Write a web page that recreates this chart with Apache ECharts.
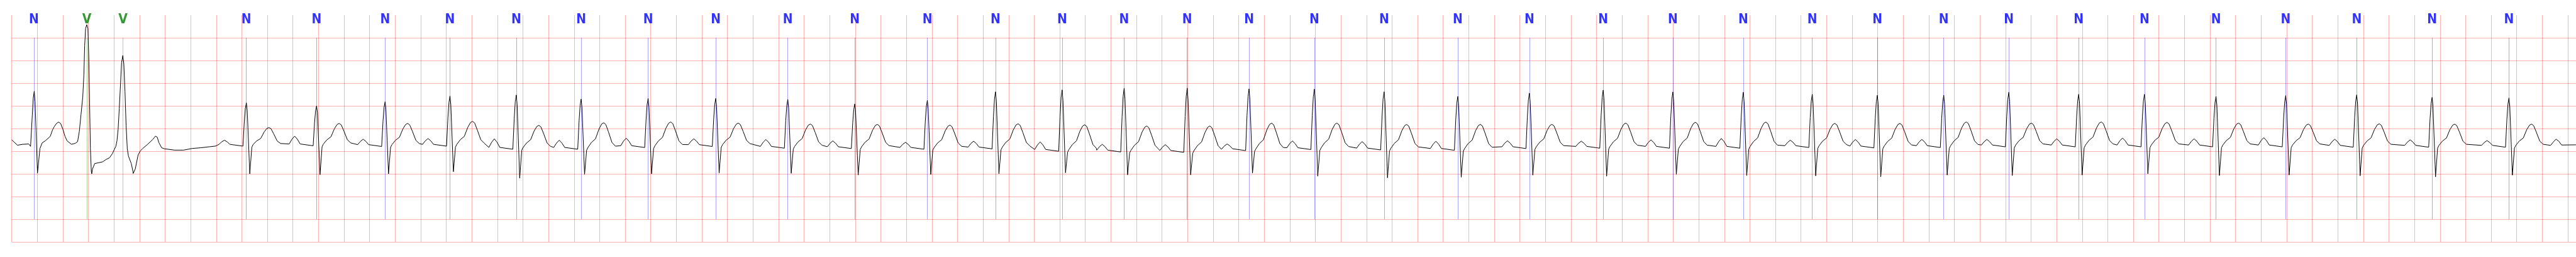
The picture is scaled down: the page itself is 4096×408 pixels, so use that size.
<!DOCTYPE html>
<html><head><meta charset="utf-8">
<script src="https://cdn.jsdelivr.net/npm/echarts@6/dist/echarts.min.js"></script>
<style>html,body{margin:0;padding:0;background:#fff;overflow:hidden}#c{width:4096px;height:408px}</style>
</head><body><div id="c"></div>
<script>
// Beat annotations (time in s, label)
const beatTimes = [0.1734, 0.5876, 0.8700, 1.8358, 2.3853, 2.9212, 3.4290, 3.9477, 4.4553, 4.9794,
  5.5083, 6.0723, 6.5962, 7.1642, 7.6975, 8.2186, 8.7042, 9.1975, 9.6814, 10.1921,
  10.7379, 11.3148, 11.8749, 12.4523, 12.9976, 13.5485, 14.0882, 14.5973, 15.1171, 15.6262,
  16.1728, 16.6873, 17.2473, 17.7926, 18.3481, 18.9381, 19.5394];
const beatTypes = ['N','V','V','N','N','N','N','N','N','N','N','N','N','N','N','N','N','N','N','N',
  'N','N','N','N','N','N','N','N','N','N','N','N','N','N','N','N','N'];

// Opening segment of the trace (N beat, two V beats, pause), read point by point (s, mV)
const leadTimes = [0, 0.0174, 0.0447, 0.0849, 0.1332, 0.1474, 0.1610, 0.1680, 0.1760, 0.1827,
  0.2015, 0.2208, 0.2377, 0.2645, 0.3012, 0.3181, 0.3315, 0.3502, 0.3663, 0.3824,
  0.4011, 0.4172, 0.4333, 0.4681, 0.4976, 0.5155, 0.5289, 0.5423, 0.5557, 0.5646,
  0.5707, 0.5780, 0.5868, 0.5959, 0.6029, 0.6093, 0.6155, 0.6227, 0.6262, 0.6316,
  0.6495, 0.6763, 0.7120, 0.7387, 0.7655, 0.7878, 0.8012, 0.8146, 0.8237, 0.8325,
  0.8414, 0.8505, 0.8593, 0.8692, 0.8773, 0.8861, 0.8950, 0.9041, 0.9129, 0.9218,
  0.9352, 0.9486, 0.9504, 0.9665, 0.9887, 1.0067, 1.0247, 1.0603, 1.1032, 1.1246,
  1.1380, 1.1514, 1.1728, 1.1943, 1.2747, 1.3435, 1.4113, 1.4810, 1.5480, 1.5962];
const leadValues = [0.249, 0.204, 0.132, 0.151, 0.159, 0.106, 0.801, 1.163, 1.322, 1.088,
  -0.483, 0.060, 0.181, 0.234, 0.325, 0.461, 0.536, 0.612, 0.642, 0.612,
  0.476, 0.325, 0.227, 0.151, 0.174, 0.211, 0.438, 0.816, 1.193, 1.692,
  2.326, 2.704, 2.789, 2.704, 2.069, 1.065, 0.060, -0.446, -0.498, -0.393,
  -0.272, -0.257, -0.234, -0.181, -0.144, -0.053, 0.030, 0.106, 0.234, 0.483,
  0.937, 1.443, 1.949, 2.110, 1.918, 1.314, 0.559, 0.060, -0.106, -0.128,
  -0.272, -0.446, -0.491, -0.393, -0.083, 0.008, 0.060, 0.144, 0.257, 0.332,
  0.310, 0.189, 0.076, 0.053, 0.023, 0.023, 0.060, 0.076, 0.098, 0.113];

// Per-beat readings for beats 4..37 (mV)
const rPeak = [1.065, 1.000, 1.088, 1.216, 1.239, 1.148, 1.163, 1.163, 1.140, 1.042, 1.120, 1.309,
  1.352, 1.390, 1.390, 1.375, 1.367, 1.309, 1.208, 1.279, 1.347, 1.307, 1.299, 1.254, 1.233,
  1.233, 1.299, 1.254, 1.254, 1.208, 1.226, 1.242, 1.186, 1.174];
const sTrough = [-0.498, -0.518, -0.498, -0.453, -0.597, -0.514, -0.498, -0.483, -0.489, -0.526,
  -0.514, -0.498, -0.476, -0.521, -0.521, -0.483, -0.551, -0.587, -0.574, -0.529, -0.551, -0.511,
  -0.534, -0.544, -0.564, -0.526, -0.536, -0.526, -0.496, -0.536, -0.526, -0.544, -0.566, -0.529];
const tPeak = [0.521, 0.612, 0.612, 0.657, 0.569, 0.627, 0.644, 0.619, 0.599, 0.591, 0.574, 0.604,
  0.582, 0.555, 0.555, 0.619, 0.619, 0.589, 0.591, 0.591, 0.619, 0.637, 0.642, 0.612, 0.612,
  0.644, 0.619, 0.644, 0.634, 0.619, 0.599, 0.604, 0.597, 0.597];
const pPeak = [0.242, 0.332, 0.264, 0.279, 0.272, 0.242, 0.287, 0.272, 0.257, 0.227, 0.196, 0.221,
  0.204, 0.151, 0.143, 0.159, 0.227, 0.211, 0.219, 0.229, 0.221, 0.249, 0.279, 0.242, 0.257,
  0.259, 0.259, 0.272, 0.289, 0.272, 0.297, 0.264, 0.249, 0.234];
const baseLevel = [0.151, 0.159, 0.144, 0.151, 0.083, 0.083, 0.121, 0.144, 0.106, 0.098, 0.083, 0.091,
  0.038, 0.023, 0.015, 0.053, 0.076, 0.068, 0.060, 0.098, 0.106, 0.106, 0.106, 0.121, 0.113,
  0.121, 0.136, 0.136, 0.136, 0.136, 0.136, 0.128, 0.128, 0.128];

// Wave morphology: time offsets from R (s) and fraction of wave height
const pOffsets = [-0.2144, -0.1929, -0.1715, -0.1501, -0.1286];
const pWeights = [0, 0.6, 1, 0.6, 0];
const tOffsets = [0.0536, 0.0804, 0.1125, 0.1393, 0.1608, 0.1769, 0.1929, 0.2144, 0.2412, 0.2680];
const tWeights = [0, 0.2, 0.35, 0.74, 0.95, 1, 0.93, 0.62, 0.2, 0.05];

// Closing segment after the last beat
const tailTimes = [19.8653, 19.8867, 19.9081, 19.9296, 19.9510, 20.0635];
const tailValues = [0.128, 0.204, 0.264, 0.219, 0.136, 0.140];

const X_MAX = 20.064, Y_MIN = -2, Y_MAX = 3;
const MARK_TOP = 2.5, MARK_BOTTOM = -1.5, LABEL_Y = 2.893;

const trace = [];
leadTimes.forEach((t, i) => trace.push([t, leadValues[i]]));
for (let i = 3; i < beatTimes.length; i++) {
  const j = i - 3, R = beatTimes[i], b = baseLevel[j], r = rPeak[j];
  pOffsets.forEach((o, k) => trace.push([R + o, b + pWeights[k] * (pPeak[j] - b)]));
  trace.push([R - 0.0268, b - 0.04]);
  trace.push([R - 0.0161, b + 0.55 * (r - b)]);
  trace.push([R - 0.0080, b + 0.87 * (r - b)]);
  trace.push([R, r]);
  trace.push([R + 0.0067, b + 0.82 * (r - b)]);
  trace.push([R + 0.0268, sTrough[j]]);
  trace.push([R + 0.0429, b - 0.06]);
  tOffsets.forEach((o, k) => trace.push([R + o, b + tWeights[k] * (tPeak[j] - b)]));
}
tailTimes.forEach((t, i) => trace.push([t, tailValues[i]]));

const styles = { N: { color: '#0000ff' }, V: { color: '#008000' } };
function labelSeries(type) {
  const times = beatTimes.filter((t, i) => beatTypes[i] === type);
  return {
    type: 'scatter', name: type, silent: true, z: 4,
    symbolSize: 1, itemStyle: { color: 'rgba(0,0,0,0)' },
    data: times.map(t => [t, LABEL_Y]),
    label: { show: true, position: 'inside', formatter: type, color: styles[type].color,
      fontWeight: 'bold', fontSize: 21,
      fontFamily: '"Liberation Sans Narrow", "DejaVu Sans Condensed", "Liberation Sans", sans-serif' },
    markLine: { silent: true, symbol: ['none', 'none'], animation: false,
      label: { show: false }, emphasis: { disabled: true },
      lineStyle: { color: styles[type].color, width: 0.7, opacity: 0.5, type: 'solid' },
      data: times.map(t => [{ coord: [t, MARK_TOP] }, { coord: [t, MARK_BOTTOM] }]) }
  };
}

const chart = echarts.init(document.getElementById('c'), null, { renderer: 'canvas' });
const gridLine = { show: true, showMaxLine: false, lineStyle: { color: 'rgba(255,0,0,0.3)', width: 1 } };
chart.setOption({
  animation: false,
  backgroundColor: '#ffffff',
  grid: { left: 18.66, right: 0, top: 23.94, bottom: 23.94, containLabel: false },
  xAxis: { type: 'value', min: 0, max: X_MAX, interval: 0.2,
    axisLine: { show: false }, axisTick: { show: false }, axisLabel: { show: false },
    splitLine: gridLine },
  yAxis: { type: 'value', min: Y_MIN, max: Y_MAX, interval: 0.5,
    axisLine: { show: false }, axisTick: { show: false }, axisLabel: { show: false },
    splitLine: gridLine },
  series: [
    labelSeries('N'),
    labelSeries('V'),
    { type: 'line', data: trace, symbol: 'none', showSymbol: false, silent: true, z: 5,
      lineStyle: { color: '#000000', width: 1 } }
  ]
});
</script></body></html>
